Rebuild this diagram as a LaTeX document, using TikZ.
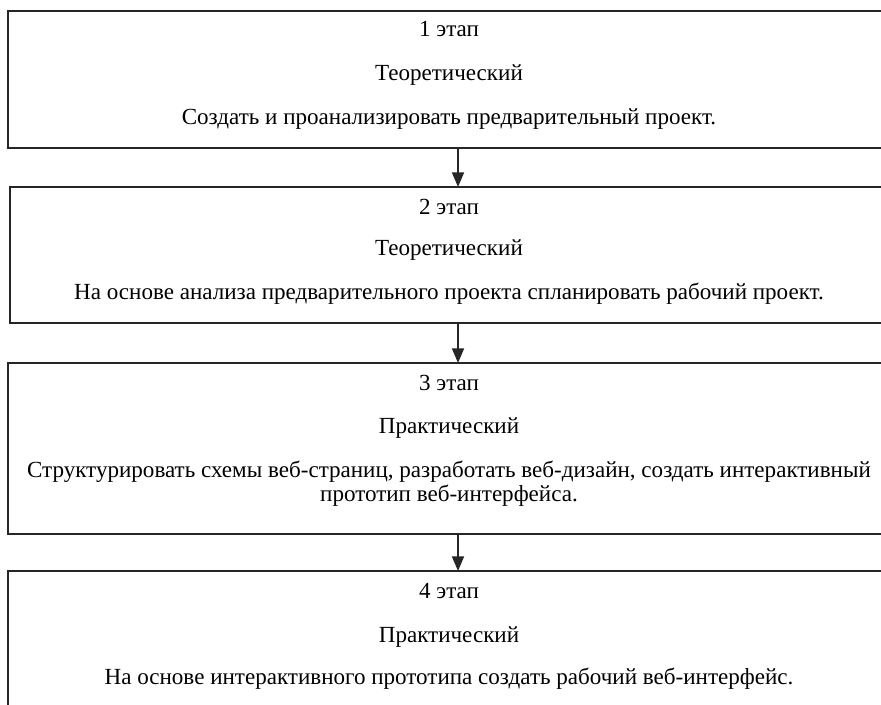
\documentclass[tikz,border=0pt]{standalone}
\usepackage{fontspec}
\setmainfont{Liberation Serif}
\usetikzlibrary{arrows.meta}
\begin{document}
\begin{tikzpicture}[x=0.75pt,y=-0.75pt,
  stagebox/.style={draw=black!85,line width=1.4pt},
  txt/.style={font=\fontsize{17.3}{20}\selectfont,inner sep=0pt,anchor=base},
  flow/.style={draw=black!85,line width=1.4pt,-{Triangle[length=11pt,width=9pt]}}]
\useasboundingbox (0,0) rectangle (881,705);
\clip (0,0) rectangle (881,705);
\fill[white] (0,0) rectangle (881,705);
% boxes
\coordinate (b1tl) at (8,11); \coordinate (b1br) at (895,148);
\coordinate (b2tl) at (10,187); \coordinate (b2br) at (895,323);
\coordinate (b3tl) at (8,363); \coordinate (b3br) at (895,534);
\coordinate (b4tl) at (8,571); \coordinate (b4br) at (895,720);
\draw[stagebox] (b1tl) rectangle (b1br);
\draw[stagebox] (b2tl) rectangle (b2br);
\draw[stagebox] (b3tl) rectangle (b3br);
\draw[stagebox] (b4tl) rectangle (b4br);
% arrows
\coordinate (a1s) at (458,148); \coordinate (a1e) at (458,187);
\coordinate (a2s) at (458,323); \coordinate (a2e) at (458,363);
\coordinate (a3s) at (458,534); \coordinate (a3e) at (458,571);
\draw[flow] (a1s) -- (a1e);
\draw[flow] (a2s) -- (a2e);
\draw[flow] (a3s) -- (a3e);
% texts box 1
\node[txt] (t11) at (449,37) {1 этап};
\node[txt] (t12) at (449,81) {Теоретический};
\node[txt] (t13) at (449,125) {Создать и проанализировать предварительный проект.};
% box 2
\node[txt] (t21) at (449,215) {2 этап};
\node[txt] (t22) at (449,256) {Теоретический};
\node[txt] (t23) at (449,300) {На основе анализа предварительного проекта спланировать рабочий проект.};
% box 3
\node[txt] (t31) at (449,391) {3 этап};
\node[txt] (t32) at (449,434) {Практический};
\node[txt] (t33) at (449,477) {Структурировать схемы веб-страниц, разработать веб-дизайн, создать интерактивный};
\node[txt] (t34) at (449,501) {прототип веб-интерфейса.};
% box 4
\node[txt] (t41) at (449,598) {4 этап};
\node[txt] (t42) at (449,642) {Практический};
\node[txt] (t43) at (449,684) {На основе интерактивного прототипа создать рабочий веб-интерфейс.};
\end{tikzpicture}
\end{document}
